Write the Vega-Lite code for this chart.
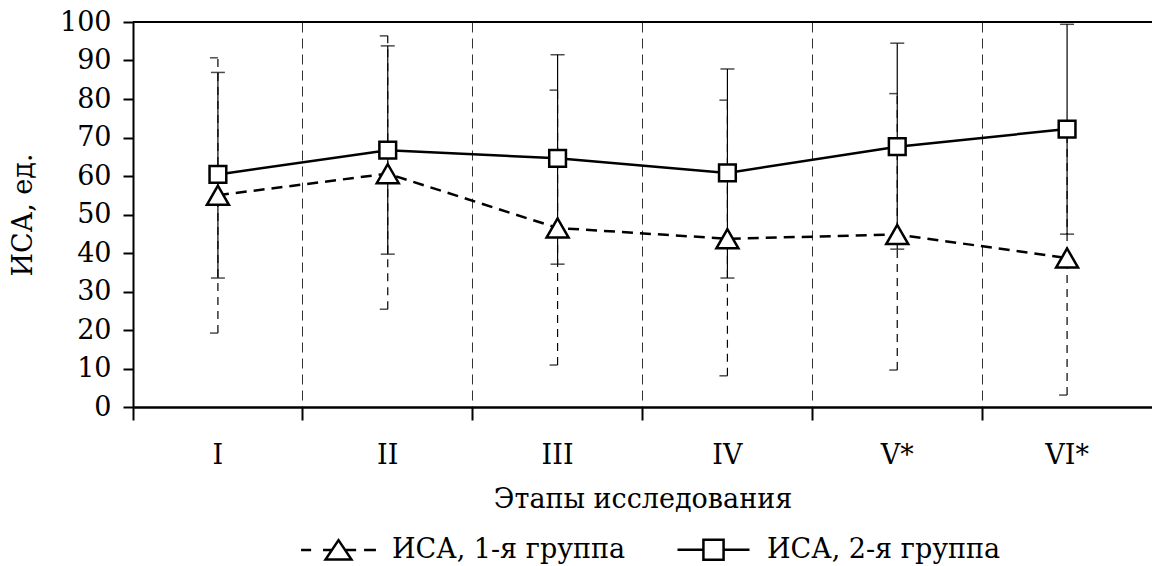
{
  "$schema": "https://vega.github.io/schema/vega-lite/v6.json",
  "width": 1019,
  "height": 385,
  "autosize": "none",
  "padding": {"left": 133, "top": 22, "right": 0, "bottom": 159},
  "background": "white",
  "config": {
    "font": "DejaVu Serif",
    "view": {"stroke": null},
    "axis": {"labelColor": "black", "titleColor": "black", "titleFontWeight": "normal", "labelFont": "DejaVu Serif", "titleFont": "DejaVu Serif"}
  },
  "data": {
    "values": [
      {"stage": "I", "group": "ИСА, 1-я группа", "mean": 55.0, "lo": 19.2, "hi": 90.7},
      {"stage": "II", "group": "ИСА, 1-я группа", "mean": 60.6, "lo": 25.4, "hi": 96.4},
      {"stage": "III", "group": "ИСА, 1-я группа", "mean": 46.5, "lo": 10.9, "hi": 82.3},
      {"stage": "IV", "group": "ИСА, 1-я группа", "mean": 43.7, "lo": 8.1, "hi": 79.7},
      {"stage": "V*", "group": "ИСА, 1-я группа", "mean": 44.8, "lo": 9.6, "hi": 81.4},
      {"stage": "VI*", "group": "ИСА, 1-я группа", "mean": 38.7, "lo": 3.1, "hi": 74.3},
      {"stage": "I", "group": "ИСА, 2-я группа", "mean": 60.4, "lo": 33.5, "hi": 86.9},
      {"stage": "II", "group": "ИСА, 2-я группа", "mean": 66.7, "lo": 39.7, "hi": 93.8},
      {"stage": "III", "group": "ИСА, 2-я группа", "mean": 64.6, "lo": 37.1, "hi": 91.5},
      {"stage": "IV", "group": "ИСА, 2-я группа", "mean": 60.8, "lo": 33.5, "hi": 87.8},
      {"stage": "V*", "group": "ИСА, 2-я группа", "mean": 67.6, "lo": 41.0, "hi": 94.5},
      {"stage": "VI*", "group": "ИСА, 2-я группа", "mean": 72.2, "lo": 44.9, "hi": 99.4}
    ]
  },
  "encoding": {
    "x": {"field": "stage", "type": "nominal", "sort": ["I", "II", "III", "IV", "V*", "VI*"],
      "scale": {"type": "band", "paddingInner": 0, "paddingOuter": 0},
      "axis": {
        "title": "Этапы исследования", "titleFontSize": 27, "titlePadding": 18,
        "labelFontSize": 27, "labelAngle": 0, "labelPadding": 22,
        "bandPosition": 0, "grid": true, "gridDash": [10, 6], "gridColor": "#333", "gridWidth": 1,
        "domainColor": "black", "domainWidth": 2.5, "tickColor": "black", "tickWidth": 2, "tickSize": 13
      }
    }
  },
  "layer": [
    {
      "transform": [{"filter": "datum.group === 'ИСА, 1-я группа'"}],
      "mark": {"type": "rule", "color": "black", "strokeWidth": 1.2, "strokeDash": [8, 6]},
      "encoding": {
        "y": {"field": "lo", "type": "quantitative",
          "scale": {"domain": [0, 100], "nice": false, "zero": true},
          "axis": {
            "title": "ИСА, ед.", "titleFontSize": 27, "titlePadding": 22,
            "values": [0, 10, 20, 30, 40, 50, 60, 70, 80, 90, 100], "tickCount": 11, "labelOverlap": false,
            "labelFontSize": 27, "labelPadding": 12, "grid": false,
            "domainColor": "black", "domainWidth": 2, "tickColor": "black", "tickWidth": 2, "tickSize": 10
          }
        },
        "y2": {"field": "hi"}
      }
    },
    {
      "transform": [{"filter": "datum.group === 'ИСА, 2-я группа'"}],
      "mark": {"type": "rule", "color": "black", "strokeWidth": 1.2},
      "encoding": {
        "y": {"field": "lo", "type": "quantitative"},
        "y2": {"field": "hi"}
      }
    },
    {
      "transform": [{"filter": "datum.group === 'ИСА, 2-я группа'"}, {"fold": ["lo", "hi"], "as": ["end", "val"]}],
      "mark": {"type": "tick", "color": "black", "size": 14, "thickness": 1.5},
      "encoding": {
        "y": {"field": "val", "type": "quantitative"}
      }
    },
    {
      "transform": [{"filter": "datum.group === 'ИСА, 1-я группа'"}, {"fold": ["lo", "hi"], "as": ["end", "val"]}],
      "mark": {"type": "tick", "color": "black", "size": 8, "thickness": 1.5, "xOffset": -4},
      "encoding": {
        "y": {"field": "val", "type": "quantitative"}
      }
    },
    {
      "transform": [{"filter": "datum.group === 'ИСА, 1-я группа'"}],
      "mark": {"type": "line", "color": "black", "strokeWidth": 2.5, "strokeDash": [11, 7]},
      "encoding": {
        "y": {"field": "mean", "type": "quantitative"}
      }
    },
    {
      "transform": [{"filter": "datum.group === 'ИСА, 2-я группа'"}],
      "mark": {"type": "line", "color": "black", "strokeWidth": 2.5},
      "encoding": {
        "y": {"field": "mean", "type": "quantitative"}
      }
    },
    {
      "transform": [{"filter": "datum.group === 'ИСА, 1-я группа'"}],
      "mark": {"type": "point", "shape": "triangle-up", "filled": true, "fill": "white", "stroke": "black", "strokeWidth": 2.5, "size": 484, "opacity": 1},
      "encoding": {
        "y": {"field": "mean", "type": "quantitative"}
      }
    },
    {
      "transform": [{"filter": "datum.group === 'ИСА, 2-я группа'"}],
      "mark": {"type": "point", "shape": "square", "filled": true, "fill": "white", "stroke": "black", "strokeWidth": 2.5, "size": 280, "opacity": 1},
      "encoding": {
        "y": {"field": "mean", "type": "quantitative"}
      }
    },
    {
      "mark": {"type": "point", "filled": false, "color": "black", "fill": "white", "strokeWidth": 2.5, "opacity": 1, "size": 0},
      "encoding": {
        "y": {"field": "mean", "type": "quantitative"},
        "shape": {
          "field": "group", "type": "nominal",
          "scale": {
            "domain": ["ИСА, 1-я группа", "ИСА, 2-я группа"],
            "range": [
              "M-1.04,0H-0.76M-0.43,0H-0.2M0.2,0H0.49M0.71,0H1.04M0,-0.27L0.36,0.27L-0.36,0.27Z",
              "M-1,0H-0.28M0.28,0H1M-0.28,-0.28H0.28V0.28H-0.28Z"
            ]
          },
          "legend": {
            "title": null, "orient": "none", "direction": "horizontal",
            "legendX": 168, "legendY": 490, "padding": 0,
            "symbolSize": 5184, "symbolStrokeWidth": 2.5,
            "labelFontSize": 27, "labelColor": "black", "labelFont": "DejaVu Serif", "labelOffset": 16, "labelLimit": 0, "columnPadding": 46,
            "encode": {"symbols": {"update": {"fill": {"value": "white"}, "stroke": {"value": "black"}, "strokeWidth": {"value": 2.5}, "opacity": {"value": 1}, "strokeOpacity": {"value": 1}, "fillOpacity": {"value": 1}}}}
          }
        }
      }
    },
    {
      "mark": {"type": "rule", "color": "black", "strokeWidth": 1},
      "encoding": {"x": null, "y": {"datum": 100, "type": "quantitative"}}
    }
  ]
}
